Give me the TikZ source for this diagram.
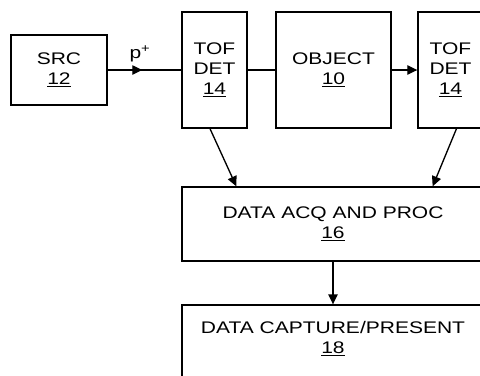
\documentclass[tikz,border=0pt]{standalone}
\usepackage{fontspec}
\setmainfont[FakeStretch=1.25]{Liberation Sans}
\usetikzlibrary{arrows.meta,calc,decorations.markings}

\begin{document}
\begin{tikzpicture}[x=0.75pt,y=0.75pt,yscale=-1,
  blk/.style={draw,line width=1pt,inner sep=0pt,align=center,
    font=\fontsize{12.6}{15}\selectfont},
  arr/.style={line width=1pt,-{Triangle[length=7.5pt,width=7pt]}},
  midarr/.style={line width=1pt,postaction={decorate},
    decoration={markings,mark=at position 0.47 with {\arrow{Triangle[length=7.5pt,width=7pt]}}}}]
\useasboundingbox (0,0) rectangle (480,376);

%Shape: Rectangle [id:src]
\node[blk,minimum width=72pt,minimum height=52.5pt] (src) at (59,70) {SRC\\\underline{12}};
%Shape: Rectangle [id:tofa]
\node[blk,minimum width=48.75pt,minimum height=87pt] (tofa) at (214.5,70) {TOF\\DET\\\underline{14}};
%Shape: Rectangle [id:obj]
\node[blk,minimum width=86.25pt,minimum height=87pt] (obj) at (333.5,70) {OBJECT\\\underline{10}};
%Shape: Rectangle [id:tofb]
\node[blk,minimum width=48.75pt,minimum height=87pt] (tofb) at (450.5,70) {TOF\\DET\\\underline{14}};
%Shape: Rectangle [id:acq]
\node[blk,minimum width=226.5pt,minimum height=55.5pt] (acq) at (333,224) {DATA ACQ AND PROC\\\underline{16}};
%Shape: Rectangle [id:cap]
\node[blk,minimum width=226.5pt,minimum height=66pt,
  label={[blk,draw=none,yshift=7.5pt]center:DATA CAPTURE/PRESENT\\\underline{18}}] (cap) at (333,349) {};

% Text Node
\node[font=\fontsize{12.6}{15}\selectfont,inner sep=0.75pt] (plab) at (140,54) {p\textsuperscript{+}};

%Straight Lines [id:beam]
\draw[midarr] (src.east) -- (tofa.west);
\draw[line width=1pt] (tofa.east) -- (obj.west);
\draw[arr] (obj.east) -- (tofb.west);
%Straight Lines [id:signals]
\draw[arr] ($(tofa.south)+(-4.5,0)$) -- ($(acq.north west)+(55,0)$);
\draw[arr] ($(tofb.south)+(6,0)$) -- ($(acq.north east)+(-52,0)$);
\draw[arr] (acq.south) -- (cap.north);

\end{tikzpicture}
\end{document}
